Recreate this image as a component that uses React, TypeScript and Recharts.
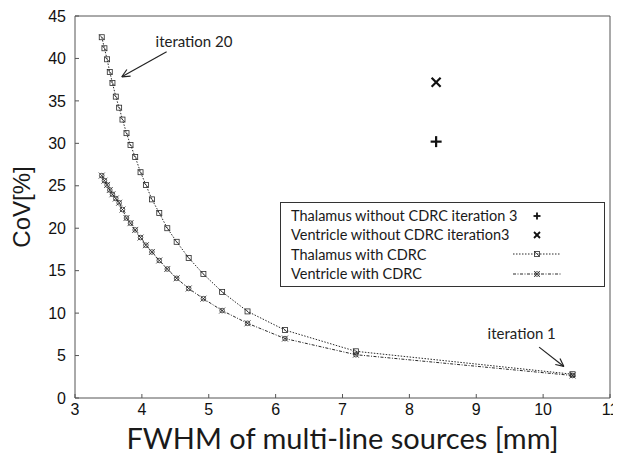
import React from 'react';
import {
  ComposedChart,
  Line,
  Scatter,
  XAxis,
  YAxis,
  ReferenceLine,
  ReferenceDot,
} from 'recharts';

// FWHM of multi-line sources [mm] per iteration (iteration 20 -> iteration 1)
const fwhm = [3.4, 3.44, 3.48, 3.52, 3.56, 3.61, 3.66, 3.71, 3.77, 3.83, 3.9, 3.98, 4.06, 4.15, 4.26, 4.38, 4.52, 4.7, 4.92, 5.2, 5.58, 6.14, 7.2, 10.44];
const thalamusCov = [42.5, 41.2, 39.9, 38.4, 37.1, 35.5, 34.2, 32.8, 31.2, 29.8, 28.4, 26.6, 25.1, 23.4, 21.8, 20.0, 18.4, 16.5, 14.6, 12.5, 10.2, 8.0, 5.5, 2.8];
const ventricleCov = [26.2, 25.6, 25.1, 24.5, 24.0, 23.5, 23.0, 22.2, 21.2, 20.6, 19.8, 18.9, 18.0, 17.2, 16.2, 15.2, 14.1, 12.9, 11.7, 10.3, 8.8, 7.0, 5.1, 2.65];

const thalamusNoCdrc = [{ x: 8.4, y: 30.2 }];
const ventricleNoCdrc = [{ x: 8.4, y: 37.2 }];

const xTicks = [3, 4, 5, 6, 7, 8, 9, 10, 11];
const yTicks = [0, 5, 10, 15, 20, 25, 30, 35, 40, 45];

const legendLabels = [
  'Thalamus without CDRC iteration 3',
  'Ventricle without CDRC iteration3',
  'Thalamus with CDRC',
  'Ventricle with CDRC',
];

// annotation arrows in data units
const arrow20 = { from: { x: 4.37, y: 40.8 }, to: { x: 3.7, y: 37.84 }, w1: { x: 3.831, y: 37.91 }, w2: { x: 3.776, y: 38.7 } };
const arrow1 = { from: { x: 9.94, y: 5.99 }, to: { x: 10.31, y: 3.72 }, w1: { x: 10.252, y: 4.66 }, w2: { x: 10.182, y: 3.95 } };
const label20 = { x: 4.78, y: 42.1, text: 'iteration 20' };
const label1 = { x: 9.68, y: 7.6, text: 'iteration 1' };

const rows = fwhm.map((x, i) => ({ x, thal: thalamusCov[i], vent: ventricleCov[i] }));

const INK = '#2a2a2a';
const CAL = 'Lato, "Open Sans", sans-serif';
const ARIAL = '"Liberation Sans", Arial, sans-serif';

const ThalDot = (props: any) => {
  const { cx, cy, index } = props;
  if (cx == null || cy == null) return <g key={`td-${index}`} />;
  return (
    <g key={`td-${index}`} stroke={INK} strokeWidth={0.8} fill="none">
      <rect x={cx - 2.5} y={cy - 2.5} width={5} height={5} />
      <line x1={cx - 2.5} y1={cy - 2.5} x2={cx + 2.5} y2={cy + 2.5} />
    </g>
  );
};

const VentDot = (props: any) => {
  const { cx, cy, index } = props;
  if (cx == null || cy == null) return <g key={`vd-${index}`} />;
  return (
    <g key={`vd-${index}`} stroke={INK} strokeWidth={0.8} fill="none">
      <circle cx={cx} cy={cy} r={2.3} />
      <line x1={cx - 3} y1={cy - 3} x2={cx + 3} y2={cy + 3} />
      <line x1={cx - 3} y1={cy + 3} x2={cx + 3} y2={cy - 3} />
    </g>
  );
};

const PlusShape = (props: any) => {
  const { cx, cy } = props;
  return (
    <g stroke="#111" strokeWidth={2.2}>
      <line x1={cx - 5.5} y1={cy} x2={cx + 5.5} y2={cy} />
      <line x1={cx} y1={cy - 5.5} x2={cx} y2={cy + 5.5} />
    </g>
  );
};

const CrossShape = (props: any) => {
  const { cx, cy } = props;
  return (
    <g stroke="#111" strokeWidth={2.2}>
      <line x1={cx - 4.5} y1={cy - 4.5} x2={cx + 4.5} y2={cy + 4.5} />
      <line x1={cx - 4.5} y1={cy + 4.5} x2={cx + 4.5} y2={cy - 4.5} />
    </g>
  );
};

const textLabel = (text: string) => (props: any) => {
  const vb = props.viewBox || {};
  const cx = (vb.cx ?? vb.x ?? 0);
  const cy = (vb.cy ?? vb.y ?? 0);
  return (
    <text x={cx} y={cy} textAnchor="middle" dominantBaseline="central" fontFamily={CAL} fontSize={15} fill="#222">
      {text}
    </text>
  );
};

const XTitle = (props: any) => {
  const vb = props.viewBox;
  return (
    <text x={vb.x + vb.width / 2} y={vb.y + 51} textAnchor="middle" fontFamily={CAL} fontSize={29} fill="#1a1a1a">
      FWHM of multi-line sources [mm]
    </text>
  );
};

const YTitle = (props: any) => {
  const vb = props.viewBox;
  const cx = vb.x + 13;
  const cy = vb.y + vb.height / 2;
  return (
    <text x={cx} y={cy} transform={`rotate(-90, ${cx}, ${cy})`} textAnchor="middle" dominantBaseline="central" fontFamily={ARIAL} fontSize={24} fill="#1a1a1a">
      CoV[%]
    </text>
  );
};

const LegendSwatch = ({ kind }: { kind: number }) => {
  if (kind === 0)
    return (
      <svg width={50} height={12}>
        <g stroke="#111" strokeWidth={1.8}>
          <line x1={20.5} y1={6} x2={27.5} y2={6} />
          <line x1={24} y1={2.5} x2={24} y2={9.5} />
        </g>
      </svg>
    );
  if (kind === 1)
    return (
      <svg width={50} height={12}>
        <g stroke="#111" strokeWidth={1.8}>
          <line x1={21} y1={3} x2={27} y2={9} />
          <line x1={21} y1={9} x2={27} y2={3} />
        </g>
      </svg>
    );
  if (kind === 2)
    return (
      <svg width={50} height={12}>
        <line x1={0} y1={6} x2={48} y2={6} stroke={INK} strokeWidth={1} strokeDasharray="1.5 1.5" />
        <ThalDot cx={24} cy={6} index={0} />
      </svg>
    );
  return (
    <svg width={50} height={12}>
      <line x1={0} y1={6} x2={48} y2={6} stroke={INK} strokeWidth={1} strokeDasharray="3 1.5 1 1.5" />
      <VentDot cx={24} cy={6} index={0} />
    </svg>
  );
};

export default function App() {
  return (
    <div style={{ position: 'relative', width: 613, height: 462 }}>
      <ComposedChart width={613} height={462} data={rows} margin={{ top: 8, right: 11, bottom: 0, left: 0 }}>
        <XAxis
          dataKey="x"
          type="number"
          domain={[3, 11]}
          ticks={xTicks}
          interval={0}
          allowDataOverflow
          height={72}
          stroke="#555"
          tickSize={-4}
          tickMargin={10}
          tick={{ fontSize: 16, fill: '#111', fontFamily: ARIAL }}
          label={<XTitle />}
        />
        <YAxis
          type="number"
          domain={[0, 45]}
          ticks={yTicks}
          interval={0}
          allowDataOverflow
          width={67}
          stroke="#555"
          tickSize={-4}
          tickMargin={13}
          tick={{ fontSize: 16, fill: '#111', fontFamily: ARIAL }}
          label={<YTitle />}
        />
        <ReferenceLine y={45} stroke="#555" strokeWidth={1} />
        <ReferenceLine x={11} stroke="#555" strokeWidth={1} />
        <Line
          dataKey="thal"
          stroke={INK}
          strokeWidth={1}
          strokeDasharray="1.5 1.5"
          dot={ThalDot}
          isAnimationActive={false}
          legendType="none"
        />
        <Line
          dataKey="vent"
          stroke={INK}
          strokeWidth={1}
          strokeDasharray="3 1.5 1 1.5"
          dot={VentDot}
          isAnimationActive={false}
          legendType="none"
        />
        <Scatter data={thalamusNoCdrc} dataKey="y" shape={PlusShape} isAnimationActive={false} />
        <Scatter data={ventricleNoCdrc} dataKey="y" shape={CrossShape} isAnimationActive={false} />

        <ReferenceLine segment={[arrow20.from, arrow20.to]} stroke="#222" strokeWidth={1.2} />
        <ReferenceLine segment={[arrow20.to, arrow20.w1]} stroke="#222" strokeWidth={1.2} />
        <ReferenceLine segment={[arrow20.to, arrow20.w2]} stroke="#222" strokeWidth={1.2} />
        <ReferenceLine segment={[arrow1.from, arrow1.to]} stroke="#222" strokeWidth={1.2} />
        <ReferenceLine segment={[arrow1.to, arrow1.w1]} stroke="#222" strokeWidth={1.2} />
        <ReferenceLine segment={[arrow1.to, arrow1.w2]} stroke="#222" strokeWidth={1.2} />
        <ReferenceDot x={label20.x} y={label20.y} r={0} stroke="none" fill="none" label={textLabel(label20.text)} />
        <ReferenceDot x={label1.x} y={label1.y} r={0} stroke="none" fill="none" label={textLabel(label1.text)} />
      </ComposedChart>
      <div
        style={{
          position: 'absolute',
          left: 272,
          top: 194,
          width: 325,
          height: 85,
          border: '1px solid #333',
          boxSizing: 'border-box',
          background: '#fff',
          padding: '3px 0 0 10px',
          fontFamily: CAL,
          fontSize: 14.5,
          color: '#1a1a1a',
        }}
      >
        {legendLabels.map((t, i) => (
          <div key={t} style={{ display: 'flex', alignItems: 'center', height: 19.3, whiteSpace: 'nowrap' }}>
            <span style={{ width: 222 }}>{t}</span>
            <LegendSwatch kind={i} />
          </div>
        ))}
      </div>
    </div>
  );
}
